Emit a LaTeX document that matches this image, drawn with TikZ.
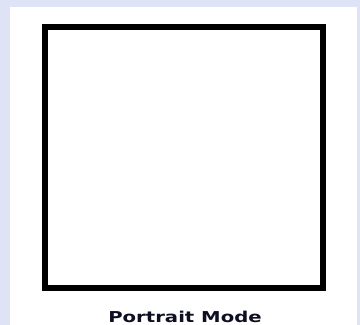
\documentclass[tikz,border=0pt]{standalone}
\usepackage{fontspec}
\setmainfont{DejaVu Sans}
\usetikzlibrary{positioning}

\definecolor{pagebg}{RGB}{222,227,245}
\definecolor{captionink}{RGB}{15,15,35}

\begin{document}
\begin{tikzpicture}[
  x=1pt, y=-1pt,
  screen/.style={draw=black, line width=6pt, minimum width=278pt, minimum height=260.5pt, inner sep=0pt},
  caption/.style={font=\fontsize{15}{18}\selectfont\bfseries, text=captionink, inner sep=0pt, anchor=base}
]
  % page and white sheet
  \fill[pagebg] (0,0) rectangle (360,325);
  \fill[white] (10,7) rectangle (357,325);
  \useasboundingbox (0,0) rectangle (360,325);

  \node[screen] (frame) at (184,157.25) {};
  \node[caption] (mode) at (185,322) {\scalebox{1.31}[1]{Portrait Mode}};
\end{tikzpicture}
\end{document}
